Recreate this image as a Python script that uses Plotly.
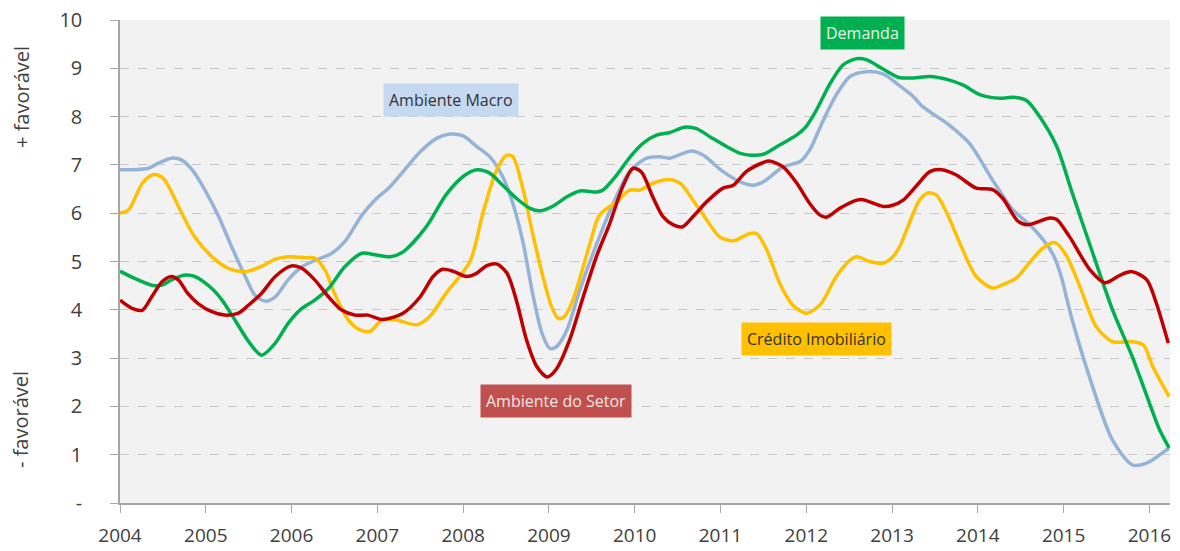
import plotly.graph_objects as go

# ---- data ----
macro_x = [2004.0, 2004.17, 2004.33, 2004.44, 2004.6, 2004.72, 2004.84, 2004.99, 2005.15, 2005.3,
           2005.46, 2005.57, 2005.69, 2005.81, 2005.96, 2006.12, 2006.27, 2006.47, 2006.62, 2006.82,
           2006.97, 2007.15, 2007.3, 2007.5, 2007.69, 2007.85, 2008.0, 2008.16, 2008.31, 2008.46,
           2008.58, 2008.7, 2008.81, 2008.92, 2009.01, 2009.09, 2009.21, 2009.36, 2009.56, 2009.75,
           2009.94, 2010.14, 2010.29, 2010.41, 2010.66, 2010.8, 2011.03, 2011.23, 2011.38, 2011.5,
           2011.73, 2011.93, 2012.04, 2012.2, 2012.35, 2012.51, 2012.7, 2012.9, 2013.08, 2013.25,
           2013.36, 2013.64, 2013.9, 2014.17, 2014.41, 2014.64, 2014.87, 2014.96, 2015.1, 2015.34,
           2015.57, 2015.8, 2015.96, 2016.23]
macro_y = [6.9, 6.9, 6.93, 7.03, 7.14, 7.1, 6.9, 6.48, 5.93, 5.31,
           4.69, 4.31, 4.18, 4.27, 4.62, 4.89, 5.02, 5.17, 5.41, 5.96,
           6.27, 6.55, 6.86, 7.27, 7.55, 7.64, 7.6, 7.38, 7.17, 6.76,
           6.2, 5.38, 4.34, 3.51, 3.2, 3.24, 3.58, 4.41, 5.38, 6.2,
           6.86, 7.14, 7.17, 7.14, 7.29, 7.2, 6.86, 6.65, 6.58, 6.65,
           6.96, 7.07, 7.31, 7.93, 8.45, 8.83, 8.93, 8.88, 8.65, 8.41,
           8.2, 7.86, 7.45, 6.69, 6.07, 5.7, 5.17, 4.76, 3.79, 2.4,
           1.3, 0.79, 0.82, 1.14]

demanda_x = [2004.0, 2004.17, 2004.37, 2004.49, 2004.6, 2004.76, 2004.87, 2005.07, 2005.19, 2005.34,
             2005.5, 2005.65, 2005.81, 2005.96, 2006.12, 2006.27, 2006.43, 2006.62, 2006.82, 2006.97,
             2007.15, 2007.3, 2007.57, 2007.8, 2008.0, 2008.16, 2008.31, 2008.46, 2008.62, 2008.78,
             2008.9, 2009.05, 2009.21, 2009.36, 2009.56, 2009.63, 2009.79, 2009.94, 2010.1, 2010.26,
             2010.41, 2010.58, 2010.72, 2010.88, 2011.07, 2011.23, 2011.36, 2011.5, 2011.66, 2011.89,
             2012.0, 2012.12, 2012.28, 2012.43, 2012.59, 2012.7, 2012.9, 2013.08, 2013.25, 2013.44,
             2013.64, 2013.83, 2014.03, 2014.26, 2014.41, 2014.57, 2014.72, 2014.92, 2015.1, 2015.34,
             2015.57, 2015.8, 2016.0, 2016.12, 2016.23]
demanda_y = [4.8, 4.65, 4.51, 4.51, 4.62, 4.72, 4.69, 4.44, 4.2, 3.79,
             3.34, 3.06, 3.31, 3.72, 4.03, 4.2, 4.44, 4.89, 5.17, 5.14,
             5.1, 5.2, 5.72, 6.38, 6.76, 6.9, 6.83, 6.58, 6.31, 6.1,
             6.05, 6.15, 6.34, 6.46, 6.44, 6.48, 6.79, 7.15, 7.45, 7.62,
             7.67, 7.78, 7.75, 7.58, 7.38, 7.24, 7.2, 7.22, 7.38, 7.62,
             7.8, 8.14, 8.69, 9.07, 9.2, 9.18, 8.98, 8.81, 8.8, 8.83,
             8.77, 8.65, 8.45, 8.38, 8.4, 8.33, 8.0, 7.38, 6.42, 5.17,
             4.0, 3.03, 2.07, 1.51, 1.14]

setor_x = [2004.0, 2004.14, 2004.26, 2004.37, 2004.49, 2004.6, 2004.68, 2004.79, 2004.91, 2005.07,
           2005.22, 2005.38, 2005.5, 2005.65, 2005.81, 2006.0, 2006.12, 2006.27, 2006.43, 2006.58,
           2006.74, 2006.89, 2007.06, 2007.3, 2007.5, 2007.65, 2007.76, 2007.88, 2008.04, 2008.16,
           2008.27, 2008.39, 2008.51, 2008.62, 2008.74, 2008.86, 2008.98, 2009.09, 2009.24, 2009.4,
           2009.56, 2009.71, 2009.86, 2009.98, 2010.08, 2010.21, 2010.33, 2010.45, 2010.56, 2010.68,
           2010.84, 2011.03, 2011.15, 2011.3, 2011.5, 2011.57, 2011.73, 2011.89, 2012.04, 2012.16,
           2012.24, 2012.39, 2012.59, 2012.66, 2012.9, 2013.0, 2013.13, 2013.29, 2013.44, 2013.58,
           2013.75, 2013.98, 2014.17, 2014.29, 2014.47, 2014.58, 2014.84, 2014.92, 2015.07, 2015.31,
           2015.48, 2015.66, 2015.8, 2015.97, 2016.08, 2016.22]
setor_y = [4.2, 4.03, 3.99, 4.27, 4.58, 4.69, 4.62, 4.34, 4.13, 3.96,
           3.89, 3.93, 4.1, 4.34, 4.69, 4.91, 4.86, 4.62, 4.27, 4.0,
           3.89, 3.89, 3.8, 3.93, 4.27, 4.69, 4.84, 4.8, 4.69, 4.76,
           4.91, 4.95, 4.76, 4.2, 3.37, 2.82, 2.61, 2.78, 3.37, 4.27,
           5.13, 5.79, 6.55, 6.93, 6.85, 6.34, 5.93, 5.76, 5.72, 5.93,
           6.24, 6.52, 6.58, 6.86, 7.05, 7.08, 6.96, 6.62, 6.2, 5.96,
           5.92, 6.1, 6.27, 6.28, 6.14, 6.16, 6.27, 6.58, 6.86, 6.9,
           6.79, 6.52, 6.49, 6.31, 5.83, 5.76, 5.9, 5.87, 5.51, 4.82,
           4.56, 4.72, 4.79, 4.62, 4.14, 3.31]

credito_x = [2004.0, 2004.1, 2004.26, 2004.37, 2004.44, 2004.52, 2004.72, 2004.87, 2005.07, 2005.26,
             2005.46, 2005.65, 2005.81, 2005.96, 2006.16, 2006.27, 2006.39, 2006.5, 2006.66, 2006.78,
             2006.91, 2007.06, 2007.22, 2007.46, 2007.61, 2007.8, 2008.08, 2008.23, 2008.39, 2008.51,
             2008.58, 2008.7, 2008.81, 2008.93, 2009.03, 2009.11, 2009.18, 2009.28, 2009.48, 2009.59,
             2009.79, 2009.94, 2010.06, 2010.21, 2010.39, 2010.53, 2010.68, 2010.84, 2010.99, 2011.15,
             2011.34, 2011.42, 2011.54, 2011.69, 2011.84, 2012.0, 2012.16, 2012.35, 2012.51, 2012.59,
             2012.74, 2012.9, 2013.01, 2013.09, 2013.32, 2013.42, 2013.52, 2013.64, 2013.79, 2013.98,
             2014.17, 2014.29, 2014.45, 2014.6, 2014.76, 2014.9, 2015.03, 2015.19, 2015.38, 2015.57,
             2015.8, 2015.93, 2016.04, 2016.23]
credito_y = [6.0, 6.07, 6.62, 6.79, 6.79, 6.69, 6.0, 5.51, 5.1, 4.86,
             4.79, 4.9, 5.05, 5.1, 5.08, 5.07, 4.82, 4.34, 3.79, 3.6,
             3.55, 3.79, 3.79, 3.69, 3.86, 4.34, 5.0, 6.0, 6.89, 7.2,
             7.17, 6.48, 5.58, 4.69, 4.07, 3.82, 3.86, 4.2, 5.38, 5.96,
             6.24, 6.48, 6.48, 6.62, 6.7, 6.62, 6.27, 5.86, 5.51, 5.43,
             5.58, 5.58, 5.24, 4.55, 4.1, 3.93, 4.1, 4.69, 5.03, 5.1,
             5.0, 4.97, 5.1, 5.31, 6.27, 6.42, 6.37, 6.0, 5.38, 4.69,
             4.45, 4.52, 4.66, 4.97, 5.28, 5.39, 5.13, 4.48, 3.65, 3.34,
             3.34, 3.27, 2.82, 2.2]

year_ticks = list(range(2004, 2017))
y_ticks = list(range(0, 11))
y_ticktext = ["-"] + [str(v) for v in range(1, 11)]

FONT = "Open Sans"
lw = 3.5

fig = go.Figure()
series = [
    ("Ambiente Macro", macro_x, macro_y, "#95b3d7"),
    ("Crédito Imobiliário", credito_x, credito_y, "#ffc000"),
    ("Demanda", demanda_x, demanda_y, "#00b050"),
    ("Ambiente do Setor", setor_x, setor_y, "#c00000"),
]
for name, xs, ys, col in series:
    fig.add_trace(go.Scatter(x=xs, y=ys, mode="lines", name=name, hoverinfo="skip",
                             line=dict(color=col, width=lw, shape="spline", smoothing=0.8)))

labels = [
    ("Ambiente Macro", 2007.86, 8.34, "#c5d9f1", "#333333"),
    ("Demanda", 2012.66, 9.73, "#00b050", "#e6f5ea"),
    ("Crédito Imobiliário", 2012.12, 3.40, "#ffc000", "#333333"),
    ("Ambiente do Setor", 2009.08, 2.11, "#c0504d", "#f6e4e4"),
]
for txt, ax_, ay_, bg, fc in labels:
    fig.add_annotation(x=ax_, y=ay_, xref="x", yref="y", text=txt, showarrow=False,
                       bgcolor=bg, borderpad=5, font=dict(family=FONT, size=16, color=fc))

side_font = dict(family=FONT, size=20, color="#404040")
fig.add_annotation(x=(21 - 120) / 1050, y=(503 - 97) / 483, xref="paper", yref="paper",
                   text="+ favorável", showarrow=False, textangle=-90,
                   xanchor="center", yanchor="middle", font=side_font)
fig.add_annotation(x=(21 - 120) / 1050, y=(503 - 420) / 483, xref="paper", yref="paper",
                   text="- favorável", showarrow=False, textangle=-90,
                   xanchor="center", yanchor="middle", font=side_font)

fig.update_layout(
    width=1180, height=551,
    margin=dict(l=120, r=10, t=20, b=48, autoexpand=False),
    paper_bgcolor="white", plot_bgcolor="#f2f2f2",
    showlegend=False,
    font=dict(family=FONT, color="#404040"),
)
fig.update_xaxes(range=[2004, 2016.24], tickvals=year_ticks, ticktext=[str(t) for t in year_ticks],
                 automargin=False, ticklabeloverflow="allow",
                 showgrid=False, zeroline=False, showline=True, linecolor="#a6a6a6", linewidth=1.5,
                 ticks="outside", ticklen=8, tickcolor="#a6a6a6", tickwidth=1,
                 tickfont=dict(family=FONT, size=19, color="#404040"), ticklabelstandoff=6)
fig.update_yaxes(range=[0, 10], tickvals=y_ticks, ticktext=y_ticktext, automargin=False,
                 ticklabeloverflow="allow",
                 showgrid=True, gridcolor="#c8c8c8", griddash="dash", gridwidth=1,
                 zeroline=False, showline=True, linecolor="#a6a6a6", linewidth=1.5,
                 ticks="outside", ticklen=8, tickcolor="#a6a6a6", tickwidth=1,
                 tickfont=dict(family=FONT, size=20, color="#404040"), ticklabelstandoff=24)

# remove the browser's default 8px body margin so the figure sits at the page origin
fig.write_html("out.html", config={"displayModeBar": False},
               post_script="document.body.style.margin='0';")
